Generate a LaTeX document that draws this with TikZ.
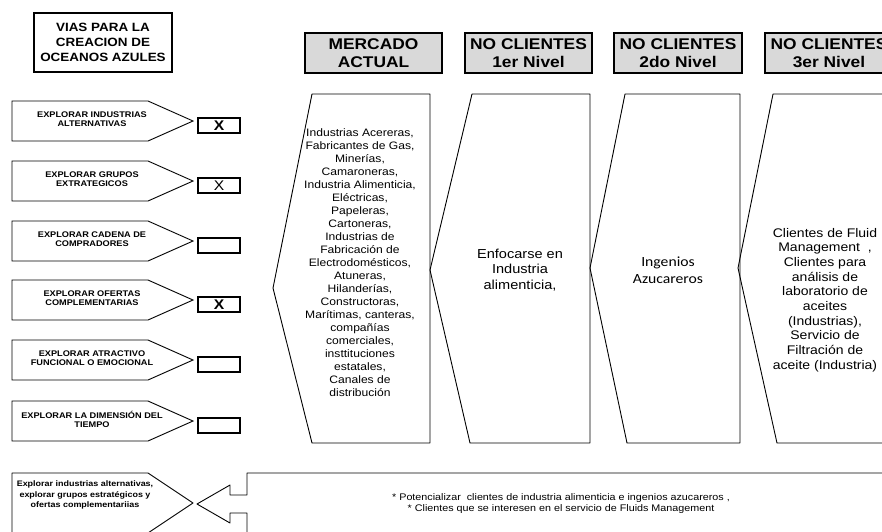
\documentclass[tikz,border=0pt]{standalone}
\usepackage{fontspec}
\setmainfont{Liberation Sans}[FakeStretch=1.12]
\newfontfamily\calibfont{Carlito}[FakeStretch=1.12]
\usepackage{tkz-euclide}
\usetikzlibrary{calc}
\definecolor{HeadClr}{rgb}{0.85,0.85,0.85}

\tikzset{
  headbox/.style={draw,line width=2pt,fill=HeadClr,minimum width=127pt,minimum height=40pt,
    inner sep=0pt,align=center,font=\fontsize{15.5}{18.5}\selectfont\bfseries},
  markbox/.style={draw,line width=1.6pt,minimum width=42pt,minimum height=15pt,inner sep=0pt,
    font=\fontsize{14}{14}\selectfont},
  waytext/.style={align=center,font=\fontsize{8.2}{9}\selectfont\bfseries},
}

\begin{document}
\begin{tikzpicture}[x=1pt,y=-1pt]
\useasboundingbox (0,0) rectangle (882,531);
\tkzSetUpLine[line width=0.9pt,color=black]

% titulo
\node[draw,line width=2pt,minimum width=138pt,minimum height=59pt,inner sep=0pt,align=center,
  font=\fontsize{12}{15}\selectfont\bfseries] (titulo) at (103,42.5) {VIAS PARA LA\\CREACION DE\\OCEANOS AZULES};

% vias (izquierda)
\foreach \c/\txt/\xm in {121/{EXPLORAR INDUSTRIAS\\ALTERNATIVAS}/{\bfseries X},
    181/{EXPLORAR GRUPOS\\EXTRATEGICOS}/X,
    241/{EXPLORAR CADENA DE\\COMPRADORES}/{},
    300/{EXPLORAR OFERTAS\\COMPLEMENTARIAS}/{\bfseries X},
    360/{EXPLORAR ATRACTIVO\\FUNCIONAL O EMOCIONAL}/{},
    421/{EXPLORAR LA DIMENSIÓN DEL\\TIEMPO}/{}}{
  \draw[line width=0.9pt] (12,\c-20) -- (148,\c-20) -- (193,\c) -- (148,\c+20) -- (12,\c+20) -- cycle;
  \node[waytext] (via\c) at (92,\c-2) {\txt};
  \node[markbox] (marca\c) at (219,\c+4.5) {\xm};
}

% cabeceras
\node[headbox,minimum width=137pt] (hMA) at (373.5,53) {MERCADO\\ACTUAL};
\node[headbox] (hN1) at (528.5,53) {NO CLIENTES\\1er Nivel};
\node[headbox,minimum width=128pt] (hN2) at (678,53) {NO CLIENTES\\2do Nivel};
\node[headbox,minimum width=128pt] (hN3) at (829,53) {NO CLIENTES\\3er Nivel};

% columnas
\tkzDefPoints{312/94/A1,430/94/A2,430/443/A3,312/443/A4,273/288/A5}
\tkzDefPoints{472/94/B1,590/94/B2,590/443/B3,470/443/B4,430/270/B5}
\tkzDefPoints{625/94/C1,740/94/C2,740/443/C3,627/443/C4,590/268/C5}
\tkzDefPoints{773/94/D1,895/94/D2,895/443/D3,777/443/D4,738/268/D5}
\tkzDrawPolygon(A1,A2,A3,A4,A5)
\tkzDrawPolygon(B1,B2,B3,B4,B5)
\tkzDrawPolygon(C1,C2,C3,C4,C5)
\tkzDrawPolygon(D1,D2,D3,D4,D5)

\node[align=center,font=\fontsize{10.8}{13}\selectfont] (tMA) at (360,263)
  {Industrias Acereras,\\Fabricantes de Gas,\\Minerías,\\Camaroneras,\\Industria Alimenticia,\\
   Eléctricas,\\Papeleras,\\Cartoneras,\\Industrias de\\Fabricación de\\Electrodomésticos,\\
   Atuneras,\\Hilanderías,\\Constructoras,\\Marítimas, canteras,\\compañías\\comerciales,\\
   insttituciones\\estatales,\\Canales de\\distribución};
\node[align=center,font=\fontsize{13}{15.5}\selectfont] (tN1) at (520,270) {Enfocarse en\\Industria\\alimenticia,};
\node[align=center,font=\calibfont\fontsize{14}{17}\selectfont] (tN2) at (668,270) {Ingenios\\Azucareros};
\node[align=center,font=\fontsize{12.5}{14.7}\selectfont] (tN3) at (825,300)
  {Clientes de Fluid\\Management\ \ ,\\Clientes para\\análisis de\\laboratorio de\\aceites\\
   (Industrias),\\Servicio de\\Filtración de\\aceite (Industria)};

% conclusion
\tkzDefPoints{12/473/E1,148/473/E2,193/503/E3,148/533/E4,12/533/E5}
\tkzDrawPolygon(E1,E2,E3,E4,E5)
\node[waytext,font=\fontsize{8}{10.5}\selectfont\bfseries] (tVias) at (85,495)
  {Explorar industrias alternativas,\\explorar grupos estratégicos y\\ofertas complementariias};

\tkzDefPoints{247/473/F1,895/473/F2,895/540/F3,247/540/F4,247/513/F5,230/513/F6,
  230/523/F7,197/504/F8,230/485/F9,230/495/F10,247/495/F11}
\tkzDrawPolygon(F1,F2,F3,F4,F5,F6,F7,F8,F9,F10,F11)
\node[align=center,font=\fontsize{9.6}{11}\selectfont] (tPot) at (561,503.5)
  {* Potencializar\ \ clientes de industria alimenticia e ingenios azucareros ,\\
   * Clientes que se interesen en el servicio de Fluids Management};

\end{tikzpicture}
\end{document}
